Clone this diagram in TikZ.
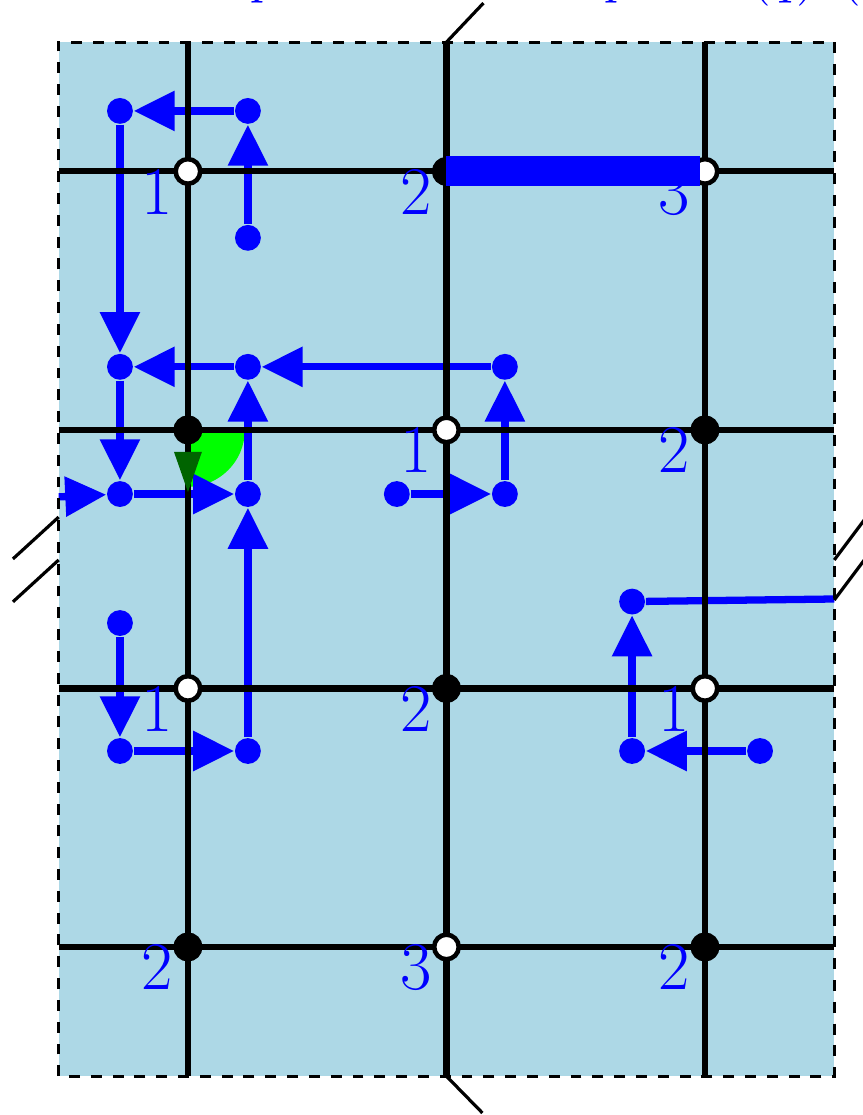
\documentclass[tikz,border=0pt]{standalone}
\usepackage{tikz}
\usetikzlibrary{arrows.meta, positioning, calc}
\definecolor{sheetcolor}{RGB}{173,216,230}
\definecolor{pathcolor}{RGB}{0,0,255}
\definecolor{wedgecolor}{RGB}{0,255,0}
\definecolor{headcolor}{RGB}{0,100,0}

\begin{document}
\begin{tikzpicture}[
    x=2cm, y=2cm,
    pathdot/.style={circle, fill=pathcolor, inner sep=0pt, minimum size=0.2cm},
    arrow/.style={-{Triangle[length=9pt, width=8.5pt]}, pathcolor, line width=1.6pt},
    line/.style={pathcolor, line width=1.6pt},
    vertex/.style={circle, draw=black, line width=1pt, inner sep=0pt, minimum size=0.19cm},
    gridline/.style={black, line width=1.35pt},
    glue/.style={black, line width=0.7pt},
    lbl/.style={pathcolor, font=\fontsize{15}{17}\selectfont, anchor=north east, inner sep=0pt},
]
\useasboundingbox (-0.727,-0.650) rectangle (2.611,3.663);

% sheet
\fill[sheetcolor] (-0.5,-0.5) rectangle (2.5,3.5);
\fill[wedgecolor] (0,2) -- (0,1.78) arc[start angle=-90, end angle=0, radius=0.22] -- cycle;

% path points
\node[pathdot] (a) at (-0.263,3.234) {};
\node[pathdot] (b) at (0.232,3.234) {};
\node[pathdot] (c) at (0.232,2.743) {};
\node[pathdot] (d) at (-0.263,2.244) {};
\node[pathdot] (e) at (0.232,2.244) {};
\node[pathdot] (f) at (1.226,2.244) {};
\node[pathdot] (g) at (-0.263,1.752) {};
\node[pathdot] (h) at (0.232,1.752) {};
\node[pathdot] (i) at (0.808,1.752) {};
\node[pathdot] (j) at (1.226,1.752) {};
\node[pathdot] (k) at (-0.263,1.253) {};
\node[pathdot] (l) at (-0.263,0.758) {};
\node[pathdot] (m) at (0.232,0.758) {};
\node[pathdot] (n) at (1.718,1.336) {};
\node[pathdot] (o) at (1.718,0.758) {};
\node[pathdot] (p) at (2.213,0.758) {};
\coordinate (entry) at (-0.5,1.741);
\coordinate (exit) at (2.5,1.346);

\draw[arrow] (b) -- (a);
\draw[arrow] (c) -- (b);
\draw[arrow] (a) -- (d);
\draw[arrow] (f) -- (e);
\draw[arrow] (e) -- (d);
\draw[arrow] (d) -- (g);
\draw[arrow] (entry) -- (g);
\draw[arrow] (g) -- (h);
\draw[arrow] (h) -- (e);
\draw[arrow] (m) -- (h);
\draw[arrow] (i) -- (j);
\draw[arrow] (j) -- (f);
\draw[arrow] (k) -- (l);
\draw[arrow] (l) -- (m);
\draw[arrow] (p) -- (o);
\draw[arrow] (o) -- (n);
\draw[line] (n) -- (exit);

% grid
\foreach \y in {0,...,3}
    \draw[gridline] (-0.5,\y) -- (2.5,\y);
\foreach \x in {0,1,2}
    \draw[gridline] (\x,-0.5) -- (\x,3.5);
\draw[black, line width=0.7pt, dash pattern=on 2.4pt off 2.4pt] (-0.5,-0.5) rectangle (2.5,3.5);

% gluing marks
\draw[glue] (1,3.5) -- (1.143,3.651);
\draw[glue] (1,-0.5) -- (1.139,-0.642);
\draw[glue] (-0.5,1.663) -- (-0.677,1.501);
\draw[glue] (-0.5,1.497) -- (-0.677,1.335);
\draw[glue] (2.5,1.497) -- (2.65,1.697);
\draw[glue] (2.5,1.342) -- (2.65,1.542);

\fill[headcolor] (-0.054,1.915) -- (0.054,1.915) -- (0,1.76) -- cycle;

% vertices
\foreach \x/\y/\c [count=\k] in {0/3/white, 1/3/black, 2/3/white,
    0/2/black, 1/2/white, 2/2/black, 0/1/white, 1/1/black, 2/1/white,
    0/0/black, 1/0/white, 2/0/black}
    \node[vertex, fill=\c] (v\k) at (\x,\y) {};
\foreach \k/\t in {1/1, 2/2, 3/3, 5/1, 6/2, 7/1, 8/2, 9/1, 10/2, 11/3, 12/2}
    \node[lbl] (t\k) at ($(v\k.center)+(-0.055,0.012)$) {\t};

\draw[pathcolor, line width=6.6pt] (v2.center) -- ($(v3.center)+(-0.02,0)$);

\node[pathcolor, font=\fontsize{13}{15}\selectfont, anchor=base west] (title) at (0.19,3.692)
    {$\makebox[78pt][l]{$p$}\makebox[31.5pt][l]{$p$}(q)\hspace{5pt}($};

\end{tikzpicture}
\end{document}
